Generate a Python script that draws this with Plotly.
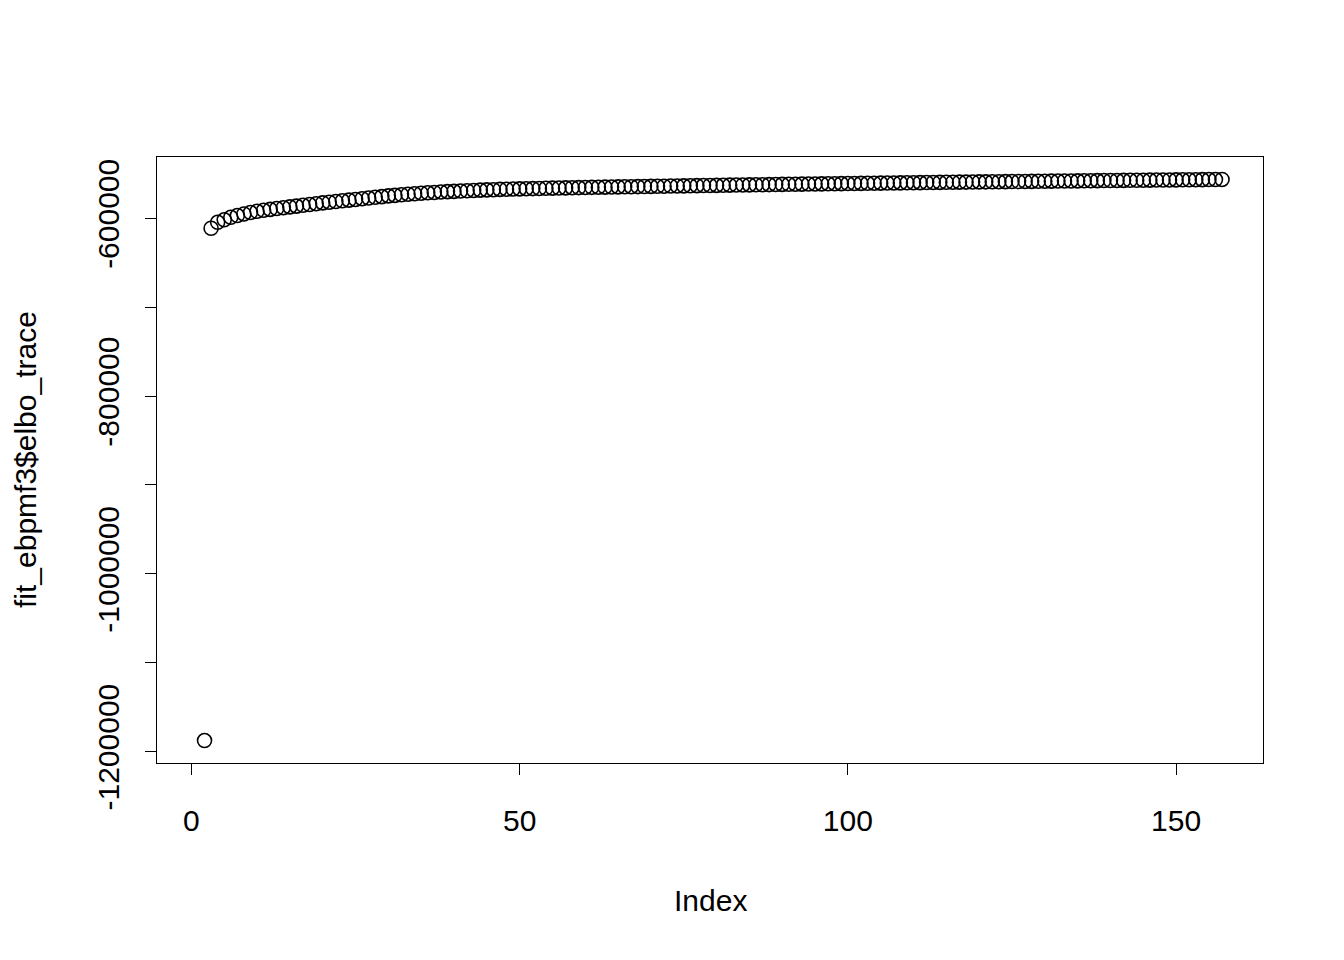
"""ELBO trace de fit_ebpmf3, style R base plot."""

import plotly.graph_objects as go

# index 1 est NA dans la trace (pas de point), mais compte pour l'axe x
index = list(range(1, 158))

elbo_trace = [
    None, -1187600, -611200, -604500, -601700, -598900, -596900, -595100, -593500, -592100,
    -591000, -590000, -589000, -588100, -587200, -586300, -585400, -584500, -583600, -582700,
    -581900, -581100, -580300, -579600, -578800, -578000, -577200, -576400, -575600, -574800,
    -574200, -573500, -572900, -572400, -571800, -571300, -570900, -570400, -570000, -569700,
    -569300, -569000, -568700, -568300, -568000, -567800, -567500, -567300, -567100, -566900,
    -566740, -566580, -566420, -566260, -566100, -565940, -565780, -565620, -565460, -565300,
    -565180, -565060, -564940, -564820, -564700, -564580, -564460, -564340, -564220, -564100,
    -563980, -563860, -563740, -563620, -563500, -563390, -563280, -563170, -563060, -562950,
    -562840, -562730, -562620, -562510, -562400, -562290, -562180, -562070, -561960, -561850,
    -561755, -561660, -561565, -561470, -561375, -561280, -561185, -561090, -560995, -560900,
    -560805, -560710, -560615, -560520, -560425, -560335, -560245, -560155, -560065, -559975,
    -559885, -559795, -559705, -559615, -559525, -559435, -559345, -559255, -559165, -559075,
    -558995, -558915, -558835, -558755, -558675, -558595, -558515, -558435, -558355, -558275,
    -558195, -558115, -558035, -557955, -557875, -557795, -557715, -557635, -557555, -557475,
    -557405, -557335, -557265, -557195, -557125, -557055, -556985, -556915, -556845, -556775,
    -556705, -556635, -556565, -556495, -556425, -556355, -556285,
]

x_ticks = [0, 50, 100, 150]
y_ticks = [-1200000, -1100000, -1000000, -900000, -800000, -700000, -600000]
y_ticktext = ["-1200000", "", "-1000000", "", "-800000", "", "-600000"]

FONT = "Liberation Sans, Arial, Helvetica, sans-serif"
FONT_SIZE = 30

# plages a la R : etendue des donnees + 4 % de chaque cote
x_lo, x_hi = min(index), max(index)
vals = [v for v in elbo_trace if v is not None]
y_lo, y_hi = min(vals), max(vals)
x_pad = 0.04 * (x_hi - x_lo)
y_pad = 0.04 * (y_hi - y_lo)

fig = go.Figure(
    go.Scatter(
        x=index,
        y=elbo_trace,
        mode="markers",
        marker={"symbol": "circle-open", "size": 14, "color": "black", "line": {"width": 1.6, "color": "black"}},
        hoverinfo="x+y",
    )
)

axis_common = dict(
    showgrid=False,
    zeroline=False,
    showline=True,
    linecolor="black",
    linewidth=1.3,
    mirror=True,
    ticks="outside",
    ticklen=11,
    tickwidth=1.3,
    tickcolor="black",
    tickfont={"family": FONT, "size": FONT_SIZE, "color": "black"},
)

fig.update_xaxes(
    range=[x_lo - x_pad, x_hi + x_pad],
    tickvals=x_ticks,
    ticklabelstandoff=20,
    **axis_common,
)
fig.update_yaxes(
    range=[y_lo - y_pad, y_hi + y_pad],
    tickvals=y_ticks,
    ticktext=y_ticktext,
    tickangle=-90,
    ticklabelstandoff=14,
    **axis_common,
)

# la page html ajoute ~8 px de marge au body : on compense a gauche et en haut
fig.update_layout(
    width=1344,
    height=960,
    margin={"l": 149, "r": 89, "t": 149, "b": 205, "autoexpand": False},
    paper_bgcolor="white",
    plot_bgcolor="white",
    showlegend=False,
    font={"family": FONT, "size": FONT_SIZE, "color": "black"},
    annotations=[
        dict(text="Index", xref="paper", yref="paper", x=0.5, y=0, xanchor="center", yanchor="middle",
             yshift=-137, showarrow=False, font={"family": FONT, "size": FONT_SIZE, "color": "black"}),
        dict(text="fit_ebpmf3$elbo_trace", xref="paper", yref="paper", x=0, y=0.5, xanchor="center",
             yanchor="middle", xshift=-132, textangle=-90, showarrow=False,
             font={"family": FONT, "size": FONT_SIZE, "color": "black"}),
    ],
)

fig.write_html("out.html")
